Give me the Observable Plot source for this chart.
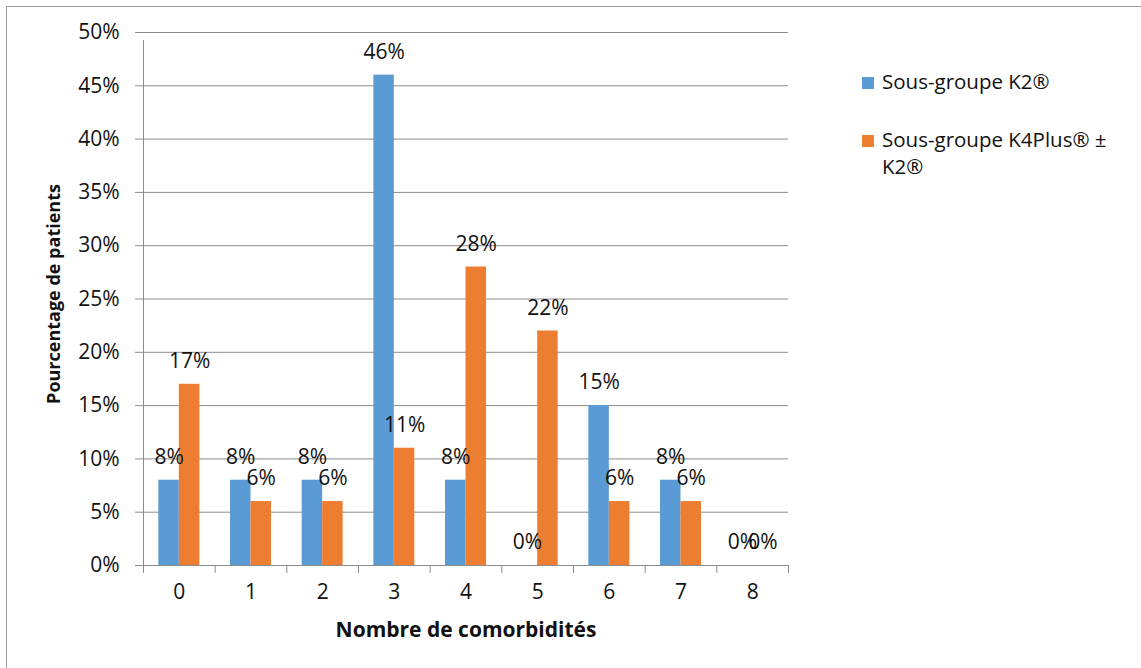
<!DOCTYPE html>
<html>
<head>
<meta charset="utf-8">
<script src="https://cdn.jsdelivr.net/npm/d3@7"></script>
<script src="https://cdn.jsdelivr.net/npm/@observablehq/plot@0.6"></script>
<style>
  html, body { margin: 0; padding: 0; background: #fff; }
  #wrap { position: relative; width: 1141px; height: 668px; overflow: hidden; font-family: "Open Sans", sans-serif; }
  #border { position: absolute; left: 6px; top: 6px; width: 1200px; height: 700px; border-left: 1px solid #9a9a9a; border-top: 1px solid #9a9a9a; }
  #legend { position: absolute; left: 862px; top: 0; width: 279px; height: 300px; font-size: 20.5px; color: #111; }
  .sw { position: absolute; left: 0; width: 12px; height: 12px; }
  .lbl { position: absolute; left: 20px; width: 259px; line-height: 27px; white-space: nowrap; }
  svg { position: absolute; left: 0; top: 0; }
</style>
</head>
<body>
<div id="wrap">
  <div id="border"></div>
  <div id="chart"></div>
  <div id="legend"></div>
</div>
<script>
const categories = ["0", "1", "2", "3", "4", "5", "6", "7", "8"];
const seriesNames = ["Sous-groupe K2®", "Sous-groupe K4Plus® ± K2®"];
const k2Values = [8, 8, 8, 46, 8, 0, 15, 8, 0];
const k4Values = [17, 6, 6, 11, 28, 22, 6, 6, 0];
const yTicks = [0, 5, 10, 15, 20, 25, 30, 35, 40, 45, 50];
const colors = ["#5B9BD5", "#ED7D31"];

const k2 = categories.map((c, i) => ({cat: c, v: k2Values[i] / 100}));
const k4 = categories.map((c, i) => ({cat: c, v: k4Values[i] / 100}));
const yTickVals = yTicks.map(t => t / 100);

const W = 1141, H = 668;
const mL = 143, mR = 353, mT = 32, mB = 103;
const bw = (W - mL - mR) / categories.length;
const barW = 20.5;
const inner = (bw - 2 * barW) / 2;
const font = "Open Sans, sans-serif";
const fs = 21;

const plot = Plot.plot({
  width: W, height: H,
  marginLeft: mL, marginRight: mR, marginTop: mT, marginBottom: mB,
  style: {fontFamily: font, fontSize: fs + "px", color: "#111", background: "transparent"},
  x: {type: "band", domain: categories, padding: 0, round: false, label: null},
  y: {domain: [0, 0.5], label: null},
  marks: [
    Plot.ruleY(yTickVals, {stroke: "#8c8c8c", strokeWidth: 1, insetLeft: -8}),
    Plot.barY(k2, {x: "cat", y: "v", fill: colors[0], insetLeft: inner, insetRight: bw - inner - barW}),
    Plot.barY(k4, {x: "cat", y: "v", fill: colors[1], insetLeft: inner + barW, insetRight: inner}),
    Plot.text(k2, {x: "cat", y: "v", text: d => Math.round(d.v * 100) + "%", dx: -(barW / 2), dy: -23, fill: "#111", fontSize: fs}),
    Plot.text(k4, {x: "cat", y: "v", text: d => Math.round(d.v * 100) + "%", dx: barW / 2, dy: -23, fill: "#111", fontSize: fs}),
    // category boundary ticks
    Plot.ruleX(categories, {x: d => d, dx: -bw / 2, y1: 0, y2: 0, insetBottom: -8, stroke: "#8c8c8c"}),
    Plot.ruleX([categories[categories.length - 1]], {x: d => d, dx: bw / 2, y1: 0, y2: 0, insetBottom: -8, stroke: "#8c8c8c"}),
    // left axis line
    Plot.ruleX([categories[0]], {x: d => d, dx: -bw / 2, y1: 0, y2: 0.5, insetBottom: -8, stroke: "#8c8c8c"}),
    Plot.ruleY([0], {stroke: "#8c8c8c", insetLeft: -8}),
    Plot.axisY(yTickVals, {tickSize: 0, tickPadding: 24, tickFormat: d => Math.round(d * 100) + "%", fontSize: fs, fill: "#111"}),
    Plot.axisX(categories, {tickSize: 0, tickPadding: 19, fontSize: fs, fill: "#111"}),
    Plot.text(["Nombre de comorbidités"], {frameAnchor: "bottom", text: d => d, fontWeight: "bold", fontSize: 21, fill: "#111", lineAnchor: "middle", dy: 65}),
    Plot.text(["Pourcentage de patients"], {frameAnchor: "left", dx: -89, dy: -5, rotate: -90, textAnchor: "middle", text: d => d, fontWeight: "bold", fontSize: 18, fill: "#111"})
  ]
});
document.getElementById("chart").appendChild(plot);

const legend = document.getElementById("legend");
const tops = [77, 135];
seriesNames.forEach((name, i) => {
  const sw = document.createElement("div");
  sw.className = "sw";
  sw.style.top = tops[i] + "px";
  sw.style.background = colors[i];
  legend.appendChild(sw);
  const lbl = document.createElement("div");
  lbl.className = "lbl";
  lbl.style.top = (tops[i] - 9) + "px";
  if (i === 1) {
    lbl.innerHTML = "Sous-groupe K4Plus® ±<br>K2®";
  } else {
    lbl.textContent = name;
  }
  legend.appendChild(lbl);
});
</script>
</body>
</html>
